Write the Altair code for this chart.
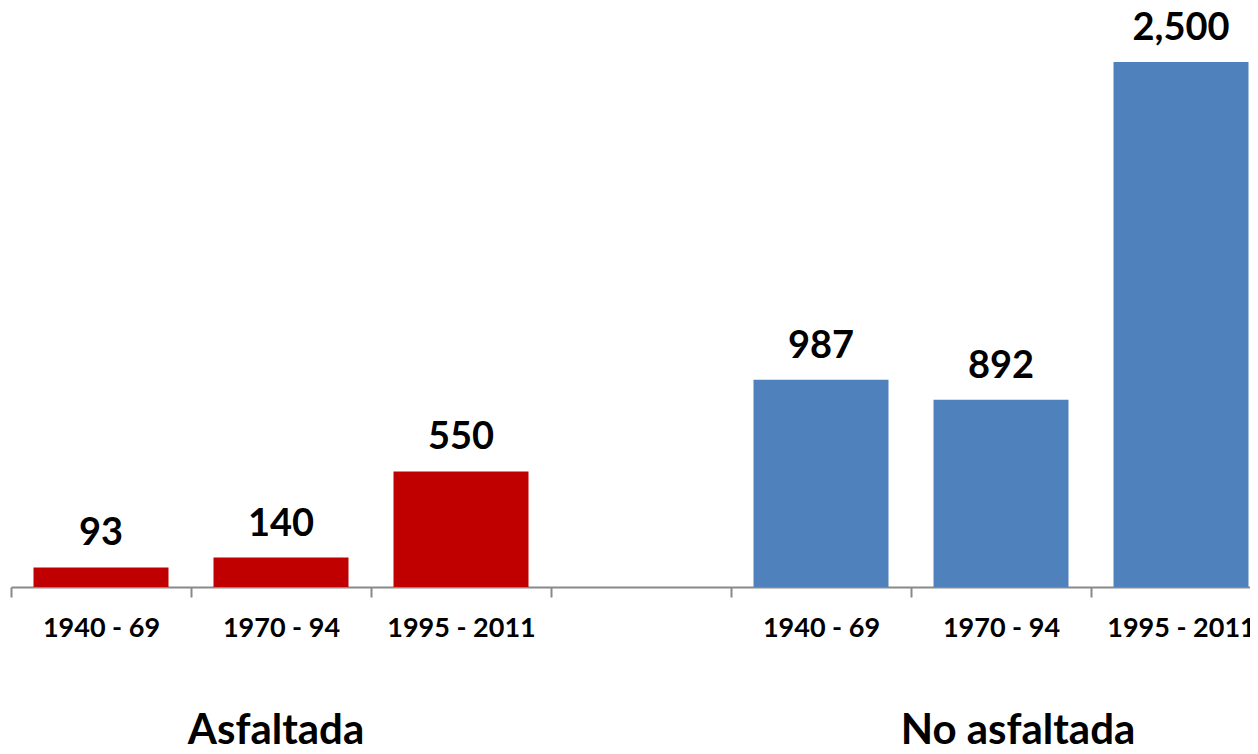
import json
import altair as alt
import pandas as pd

periods = ["1940 - 69", "1970 - 94", "1995 - 2011"]
groups = ["Asfaltada", "No asfaltada"]
asfaltada = [93, 140, 550]
no_asfaltada = [987, 892, 2500]

slots = ["A0", "A1", "A2", "gap", "N0", "N1", "N2"]
slot_labels = periods + [""] + periods
colors = ["#C00000", "#4F81BD"]

rows = []
for i, v in enumerate(asfaltada):
    rows.append({"slot": slots[i], "value": v, "group": groups[0]})
for i, v in enumerate(no_asfaltada):
    rows.append({"slot": slots[4 + i], "value": v, "group": groups[1]})
df = pd.DataFrame(rows)

FONT = "Lato"
label_expr = f"{json.dumps(slot_labels)}[indexof({json.dumps(slots)}, datum.value)]"

xscale = alt.Scale(domain=slots, range=[0, 1260], paddingInner=0, paddingOuter=0)
yscale = alt.Scale(domain=[0, 2757], nice=False)

x = alt.X(
    "slot:N",
    scale=xscale,
    axis=alt.Axis(
        title=None,
        labelExpr=label_expr,
        tickBand="extent",
        labelAngle=0,
        domainColor="#898989",
        domainWidth=2,
        tickColor="#898989",
        tickWidth=2,
        tickSize=10,
        labelFont=FONT,
        labelFontSize=27,
        labelFontWeight="bold",
        labelColor="black",
        labelPadding=18,
        labelBaseline="top",
        grid=False,
    ),
)
y = alt.Y("value:Q", scale=yscale, axis=None)

bars = alt.Chart(df).mark_bar(width={"band": 0.75}).encode(
    x=x,
    y=y,
    color=alt.Color("group:N", scale=alt.Scale(domain=groups, range=colors), legend=None),
)

values = alt.Chart(df).mark_text(
    dy=-22, baseline="alphabetic", fontSize=38, fontWeight="bold", font=FONT, color="black"
).encode(x=alt.X("slot:N", scale=xscale), y=alt.Y("value:Q", scale=yscale), text=alt.Text("value:Q", format=",d"))

g1 = alt.Chart(pd.DataFrame({"slot": ["A1"], "label": [groups[0]]})).mark_text(
    dx=-5, baseline="alphabetic", fontSize=42, fontWeight="bold", font=FONT, color="black"
).encode(x=alt.X("slot:N", scale=xscale), y=alt.value(736), text="label:N")

g2 = alt.Chart(pd.DataFrame({"slot": ["N1"], "label": [groups[1]]})).mark_text(
    dx=17, baseline="alphabetic", fontSize=42, fontWeight="bold", font=FONT, color="black"
).encode(x=alt.X("slot:N", scale=xscale), y=alt.value(736), text="label:N")

chart = (
    alt.layer(bars, values, g1, g2)
    .properties(
        width=1239,
        height=579,
        autosize=alt.AutoSizeParams(type="none"),
        padding={"left": 3, "top": 0, "right": 0, "bottom": 159},
        view=alt.ViewBackground(stroke="transparent", strokeWidth=0),
    )
    .configure_view(stroke="transparent", strokeWidth=0)
    .configure(background="white")
)

chart.save("out.html", embed_options={"renderer": "svg", "actions": False})
